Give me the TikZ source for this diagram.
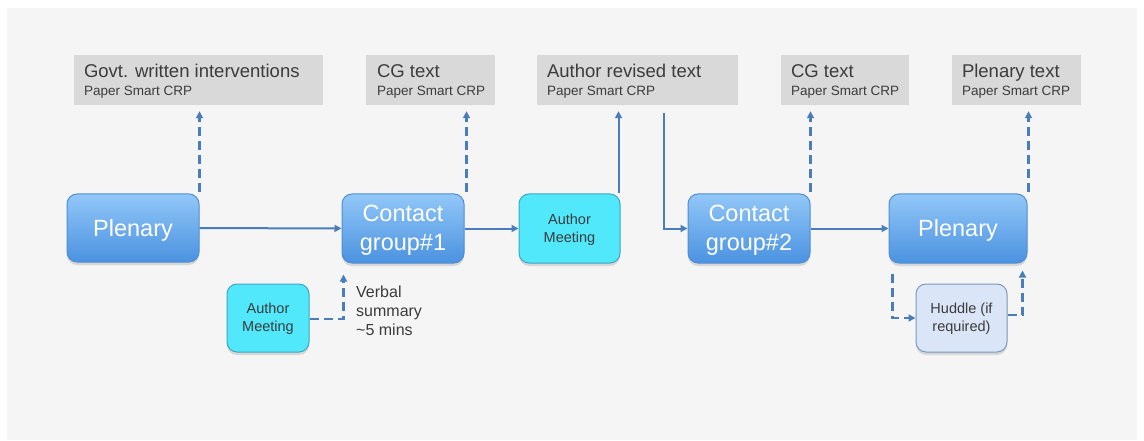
\documentclass[tikz,border=0pt]{standalone}
\usepackage{fontspec}
\setmainfont{Liberation Sans}
\usetikzlibrary{arrows.meta,shadows,calc}
\definecolor{bgc}{HTML}{F5F5F5}
\definecolor{grayc}{HTML}{D9D9D9}
\definecolor{txtc}{HTML}{3C3C3C}
\definecolor{arrc}{HTML}{4A7EBB}
\definecolor{bluetop}{HTML}{92C7F8}
\definecolor{bluebot}{HTML}{4B92E0}
\definecolor{blueline}{HTML}{4F8ED3}
\definecolor{cyanc}{HTML}{50E8FA}
\definecolor{cyanline}{HTML}{3FA6C2}
\definecolor{hudc}{HTML}{DAE5F7}
\definecolor{hudline}{HTML}{7C97BF}
\tikzset{
  graybox/.style={draw=none,fill=grayc,minimum height=50pt,inner sep=0pt},
  headtxt/.style={anchor=base west,inner sep=0pt,text=txtc,font=\fontsize{18.5}{22}\selectfont},
  subtxt/.style={anchor=base west,inner sep=0pt,text=txtc,font=\fontsize{13.5}{16}\selectfont},
  boxshadow/.style={drop shadow={opacity=0.25,shadow xshift=0pt,shadow yshift=-3pt}},
  bluebox/.style={draw=blueline,line width=1pt,rounded corners=10pt,top color=bluetop,bottom color=bluebot,
    minimum height=69pt,inner sep=0pt,boxshadow},
  btext/.style={inner sep=0pt,align=center,text=white,font=\fontsize{23.5}{29}\selectfont},
  cyanbox/.style={draw=cyanline,line width=1pt,rounded corners=10pt,fill=cyanc,
    minimum height=69pt,inner sep=0pt,boxshadow},
  hudbox/.style={draw=hudline,line width=1pt,rounded corners=10pt,fill=hudc,
    minimum height=68pt,inner sep=0pt,boxshadow},
  stext/.style={inner sep=0pt,align=center,text=txtc,font=\fontsize{14.5}{18}\selectfont},
  solidarrow/.style={draw=arrc,line width=2pt,-{Triangle[length=7pt,width=7pt]}},
  dasharrow/.style={draw=arrc,line width=2.5pt,dash pattern=on 9pt off 5pt,-{Triangle[length=7pt,width=7pt]}},
}
\begin{document}
\begin{tikzpicture}[x=1pt,y=-1pt]
\useasboundingbox (0,0) rectangle (1144,441);
\fill[white] (0,0) rectangle (1144,441);
\fill[bgc] (7,8) rectangle (1137,440);

% gray text boxes
\node[graybox,minimum width=249pt] (g1) at (198.5,80) {};
\node[graybox,minimum width=129pt] (g2) at (430.5,80) {};
\node[graybox,minimum width=201pt] (g3) at (637.5,80) {};
\node[graybox,minimum width=128pt] (g4) at (845,80) {};
\node[graybox,minimum width=129pt] (g5) at (1016.5,80) {};
\node[headtxt] (g1h) at ($(g1.north west)+(10,23)$) {Govt. written interventions};
\node[subtxt]  (g1s) at ($(g1.north west)+(10,41)$) {Paper Smart CRP};
\node[headtxt] (g2h) at ($(g2.north west)+(11,23)$) {CG text};
\node[subtxt]  (g2s) at ($(g2.north west)+(11,41)$) {Paper Smart CRP};
\node[headtxt] (g3h) at ($(g3.north west)+(10,23)$) {Author revised text};
\node[subtxt]  (g3s) at ($(g3.north west)+(10,41)$) {Paper Smart CRP};
\node[headtxt] (g4h) at ($(g4.north west)+(10,23)$) {CG text};
\node[subtxt]  (g4s) at ($(g4.north west)+(10,41)$) {Paper Smart CRP};
\node[headtxt] (g5h) at ($(g5.north west)+(10,23)$) {Plenary text};
\node[subtxt]  (g5s) at ($(g5.north west)+(10,41)$) {Paper Smart CRP};

% process boxes
\node[bluebox,minimum width=132pt,minimum height=68pt] (p1) at (133,228) {};
\node[bluebox,minimum width=122pt] (c1) at (403,228.5) {};
\node[cyanbox,minimum width=101pt] (am1) at (569.5,228.5) {};
\node[bluebox,minimum width=122pt] (c2) at (749,228.5) {};
\node[bluebox,minimum width=138pt] (p2) at (958,228.5) {};
\node[cyanbox,minimum width=82pt,minimum height=68pt] (am2) at (268,318) {};
\node[hudbox,minimum width=91pt] (hud) at (961.5,318) {};

\node[btext] (p1t) at ($(p1)+(0,2)$) {Plenary};
\node[btext] (c1t) at ($(c1)+(0,2)$) {Contact\\group\#1};
\node[stext] (am1t) at ($(am1)+(0,1)$) {Author\\Meeting};
\node[btext] (c2t) at ($(c2)+(0,2)$) {Contact\\group\#2};
\node[btext] (p2t) at ($(p2)+(0,2)$) {Plenary};
\node[stext] (am2t) at ($(am2)+(0,1)$) {Author\\Meeting};
\node[stext] (hudt) at ($(hud)+(0,1)$) {Huddle (if\\required)};
\node[anchor=west,align=left,inner sep=0pt,text=txtc,font=\fontsize{16}{19}\selectfont] (verb) at (356,311) {Verbal\\summary\\\textasciitilde5 mins};

% solid connectors
\draw[solidarrow] (p1) -- (c1);
\draw[solidarrow] (c1) -- (am1);
\draw[solidarrow] (c2) -- (p2);
\draw[solidarrow] ($(am1.north east)+(-2,0)$) -- ($(am1.north east |- g3.south)+(-2,6)$);
\coordinate (g3d) at ($(g3.south west)+(127,8)$);
\draw[solidarrow] (g3d) |- (c2.west);

% dashed connectors up
\draw[dasharrow] ($(p1.north east)+(0,-1)$) -- ($(p1.north east |- g1.south)+(0,6)$);
\draw[dasharrow] ($(c1.north east)+(2,-1)$) -- ($(c1.north east |- g2.south)+(2,6)$);
\draw[dasharrow] ($(c2.north east)+(0,-1)$) -- ($(c2.north east |- g4.south)+(0,6)$);
\draw[dasharrow] ($(p2.north east)+(1,-1)$) -- ($(p2.north east |- g5.south)+(1,6)$);

% dashed connectors below
\coordinate (p2d) at ($(p2.south west)+(4,10)$);
\draw[dasharrow] (p2d) |- (hud.west);
\coordinate (hudr) at ($(hud.east)+(15,-3)$);
\draw[dasharrow] ($(hud.east)+(0,-3)$) -- (hudr) -- ($(hudr |- p2.south)+(0,7)$);
\coordinate (am2r) at ($(am2.east)+(34,1)$);
\draw[dasharrow] ($(am2.east)+(0,1)$) -- (am2r) -- ($(am2r |- c1.south)+(0,11)$);
\end{tikzpicture}
\end{document}
